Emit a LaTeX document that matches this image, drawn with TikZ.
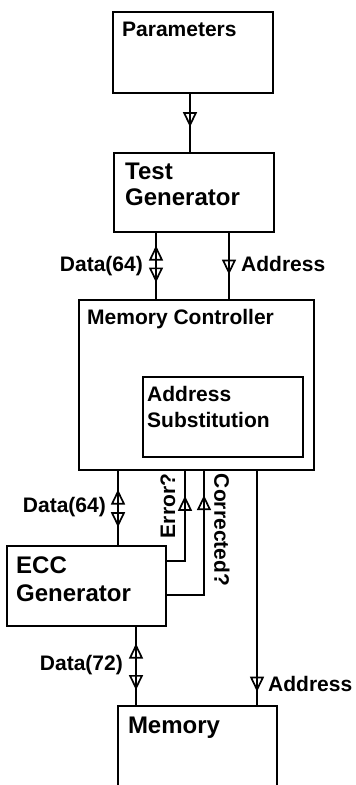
\documentclass[tikz,border=0pt]{standalone}
\usepackage{fontspec}
\setmainfont{Liberation Sans}
\usetikzlibrary{arrows.meta,decorations.markings}

\begin{document}
\begin{tikzpicture}[x=1pt,y=-1pt,
    box/.style={draw, line width=2pt, inner sep=0pt},
    wire/.style={line width=2pt},
    lbl/.style={font=\bfseries\fontsize{21}{26}\selectfont, inner sep=0pt, align=left},
    big/.style={font=\bfseries\fontsize{24}{26}\selectfont, inner sep=0pt, align=left},
    tipfwd/.style={postaction={decorate,decoration={markings,
      mark=at position #1 with {\arrow[line width=1.7pt]{Triangle[open,length=15pt,width=14pt]}}}}},
    tipbwd/.style={postaction={decorate,decoration={markings,
      mark=at position #1 with {\arrowreversed[line width=1.7pt]{Triangle[open,length=15pt,width=14pt]}}}}}]
  \useasboundingbox (0,0) rectangle (356,785);

  % blocks
  \node[box, minimum width=160, minimum height=81] (par) at (193,52.5) {};
  \node[box, minimum width=160, minimum height=79] (tg) at (194,192.5) {};
  \node[box, minimum width=235, minimum height=170] (mc) at (196.5,385) {};
  \node[box, minimum width=160, minimum height=80] (as) at (223,417) {};
  \node[box, minimum width=159, minimum height=80] (ecc) at (86.5,586) {};
  \node[inner sep=0pt, minimum width=159, minimum height=79] (mem) at (197.5,745.5) {};
  \draw[wire] (mem.south west) |- (mem.north east) -- (mem.south east);

  \node[lbl, anchor=north west] (parT) at ([shift={(10,11)}]par.north west) {Parameters};
  \node[big, anchor=north west] (tgT) at ([shift={(12,11)}]tg.north west) {Test\\Generator};
  \node[lbl, anchor=north west] (mcT) at ([shift={(9,10)}]mc.north west) {Memory Controller};
  \node[lbl, anchor=north west] (asT) at ([shift={(5,10)}]as.north west) {Address\\Substitution};
  \node[big, anchor=north west, font=\bfseries\fontsize{24}{28}\selectfont] (eccT) at ([shift={(10,12)}]ecc.north west) {ECC\\Generator};
  \node[big, anchor=north west] (memT) at ([shift={(10,11)}]mem.north west) {Memory};

  % signals
  \draw[wire, tipfwd=0.57] (par.south -| 190,0) -- (tg.north -| 190,0);
  \draw[wire, tipbwd=0.19, tipfwd=0.75] (tg.south -| 156,0) -- (mc.north -| 156,0);
  \draw[wire, tipfwd=0.63] (tg.south -| 229,0) -- (mc.north -| 229,0);
  \draw[wire, tipbwd=0.25, tipfwd=0.76] (mc.south -| 118,0) -- (ecc.north -| 118,0);
  \draw[wire, tipfwd=0.77] (ecc.east |- 0,561) -| (mc.south -| 185,0);
  \draw[wire, tipfwd=0.85] (ecc.east |- 0,595) -| (mc.south -| 204,0);
  \draw[wire, tipbwd=0.21, tipfwd=0.8] (ecc.south -| 136,0) -- (mem.north -| 136,0);
  \draw[wire, tipfwd=0.94] (mc.south -| 257,0) -- (mem.north -| 257,0);

  \node[lbl, anchor=east] (d64a) at (143,266) {Data(64)};
  \node[lbl, anchor=west] (adra) at (241,264) {Address};
  \node[lbl, anchor=east] (d64b) at (106,507) {Data(64)};
  \node[lbl, rotate=90] (err) at (168,506) {Error?};
  \node[lbl, rotate=-90] (cor) at (222,530) {Corrected?};
  \node[lbl, anchor=east] (d72) at (123,665) {Data(72)};
  \node[lbl, anchor=west] (adrb) at (268,684) {Address};
\end{tikzpicture}
\end{document}
